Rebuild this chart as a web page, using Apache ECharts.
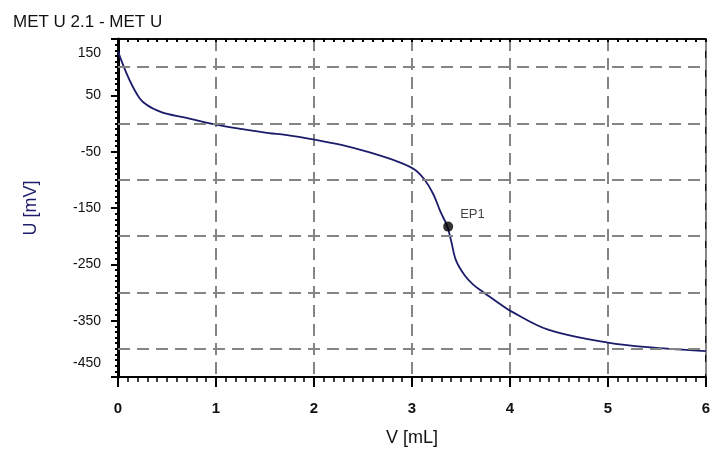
<!DOCTYPE html>
<html>
<head>
<meta charset="utf-8">
<script src="https://cdn.jsdelivr.net/npm/echarts@6/dist/echarts.min.js"></script>
<style>
  html, body { margin: 0; padding: 0; background: #fff; }
  #chart { width: 713px; height: 455px; }
</style>
</head>
<body>
<div id="chart"></div>
<script>
// titration curve
const volume = [0, 0.22, 0.43, 0.70, 1.0, 1.27, 1.54, 1.71, 2.02, 2.28, 2.56, 2.86, 3.03, 3.13, 3.22, 3.29, 3.36, 3.40, 3.45, 3.54, 3.62, 3.74, 3.88, 4.01, 4.39, 5.0, 5.47, 6.0];
const potential = [128, 45, 21, 10, -2, -10, -17, -20, -29, -38, -51, -68, -82, -100, -126, -156, -182, -208, -243, -270, -285, -301, -318, -333, -366, -389, -398, -404];

// endpoint
const epVolume = [3.37];
const epPotential = [-183];
const epNames = ['EP1'];

// axis labels at odd fifties, grid lines at hundreds
const yTicks = [150, 50, -50, -150, -250, -350, -450];
const yGrid = [100, 0, -100, -200, -300, -400];
const xTicks = [0, 1, 2, 3, 4, 5, 6];

const chart = echarts.init(document.getElementById('chart'));

const gridDash = { color: '#858585', width: 2, type: [12, 7] };

const option = {
    animation: false,
    title: {
        text: 'MET U 2.1 - MET U',
        left: 8,
        top: 9,
        textStyle: { fontFamily: 'Liberation Sans', fontSize: 17, fontWeight: 'normal', color: '#111' }
    },
    grid: {
        left: 118, right: 4, top: 39, bottom: 78,
        show: true, borderColor: '#000', borderWidth: 1.5
    },
    xAxis: [
        {
            type: 'value',
            min: xTicks[0],
            max: xTicks[xTicks.length - 1],
            interval: 1,
            name: 'V [mL]',
            nameLocation: 'middle',
            nameGap: 52,
            nameTextStyle: { fontFamily: 'Liberation Sans', fontSize: 18, color: '#111' },
            axisLine: { show: true, onZero: false, lineStyle: { color: '#000', width: 2 } },
            axisTick: { show: true, length: 10, lineStyle: { color: '#000', width: 2 } },
            minorTick: { show: true, splitNumber: 10, length: 5, lineStyle: { color: '#000', width: 1.5 } },
            axisLabel: { margin: 24, fontFamily: 'Liberation Sans', fontSize: 15, fontWeight: 'bold', color: '#111' },
            splitLine: { show: true, lineStyle: gridDash }
        },
        {
            type: 'value',
            position: 'top',
            min: xTicks[0],
            max: xTicks[xTicks.length - 1],
            interval: 1,
            axisLine: { show: true, onZero: false, lineStyle: { color: '#000', width: 1.5 } },
            axisTick: { show: true, inside: true, length: 3, lineStyle: { color: '#000', width: 2 } },
            minorTick: { show: true, splitNumber: 10, length: 3, lineStyle: { color: '#000', width: 2 } },
            minorTickInside: true,
            axisLabel: { show: false },
            splitLine: { show: false }
        }
    ],
    yAxis: {
        type: 'value',
        min: yTicks[yTicks.length - 1],
        max: yTicks[0],
        interval: 100,
        name: 'U [mV]',
        nameLocation: 'middle',
        nameGap: 78,
        nameTextStyle: { fontFamily: 'Liberation Sans', fontSize: 18, color: '#1c1c6b' },
        axisLine: { show: true, onZero: false, lineStyle: { color: '#000', width: 3 } },
        axisTick: { show: true, length: 7, lineStyle: { color: '#000', width: 2 } },
        minorTick: { show: true, splitNumber: 10, length: 3, lineStyle: { color: '#000', width: 2 } },
        axisLabel: {
            margin: 17,
            fontFamily: 'Liberation Sans',
            fontSize: 14,
            color: '#111',
            formatter: function (v) {
                if (v === yTicks[0]) return '{top|' + v + '}';
                if (v === yTicks[yTicks.length - 1]) return '{bot|' + v + '}';
                return String(v);
            },
            rich: {
                top: { fontFamily: 'Liberation Sans', fontSize: 14, color: '#111', padding: [28, 0, 0, 0] },
                bot: { fontFamily: 'Liberation Sans', fontSize: 14, color: '#111', padding: [0, 0, 28, 0] }
            }
        },
        splitLine: { show: false }
    },
    series: [
        {
            // horizontal grid lines at the hundreds
            type: 'line',
            data: [],
            z: 1,
            silent: true,
            markLine: {
                silent: true,
                symbol: 'none',
                label: { show: false },
                lineStyle: gridDash,
                data: yGrid.map(v => ({ yAxis: v }))
            }
        },
        {
            name: 'U',
            type: 'line',
            data: volume.map((v, i) => [v, potential[i]]),
            showSymbol: false,
            smooth: 0.35,
            z: 3,
            lineStyle: { color: '#1c1c6b', width: 1.8 }
        },
        {
            name: 'EP',
            type: 'scatter',
            data: epVolume.map((v, i) => [v, epPotential[i], epNames[i]]),
            symbolSize: 10,
            z: 4,
            itemStyle: { color: '#000' },
            label: {
                show: true,
                position: 'right',
                offset: [2, -12],
                formatter: p => p.data[2],
                fontFamily: 'Liberation Sans',
                fontSize: 13,
                color: '#111'
            }
        }
    ]
};

chart.setOption(option);
</script>
</body>
</html>
